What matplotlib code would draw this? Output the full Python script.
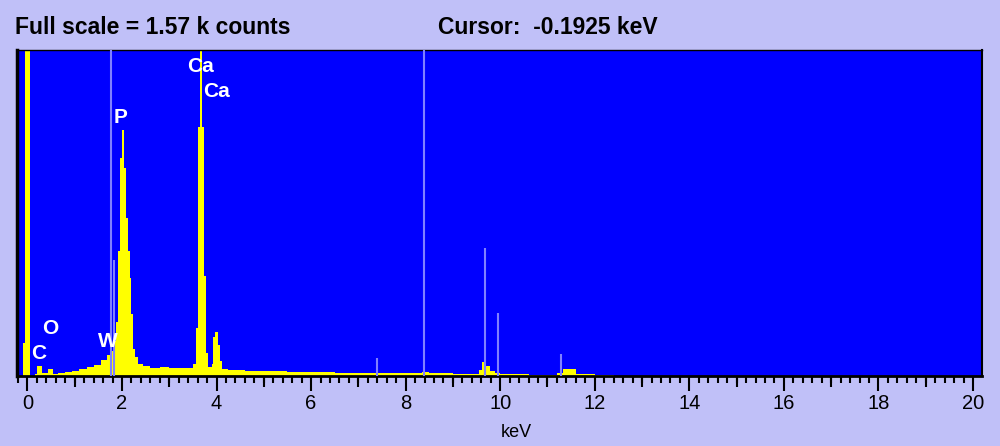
import matplotlib.pyplot as plt
from matplotlib.ticker import MultipleLocator

# spectrum: left bin edge (keV) and counts in that bin
spec_kev = [-0.22, -0.10, -0.05, 0.05, 0.17, 0.21, 0.30, 0.43, 0.54, 0.65, 0.80, 0.95,
            1.10, 1.25, 1.40, 1.55, 1.68, 1.76, 1.80, 1.84, 1.88, 1.92, 1.96, 2.00,
            2.04, 2.08, 2.12, 2.16, 2.20, 2.24, 2.28, 2.34, 2.45, 2.60, 2.80, 3.00,
            3.20, 3.40, 3.50, 3.56, 3.60, 3.66, 3.70, 3.74, 3.78, 3.82, 3.90, 3.93,
            3.97, 4.03, 4.07, 4.12, 4.25, 4.60, 5.00, 5.50, 6.00, 6.50, 7.00, 7.50,
            8.00, 8.35, 8.50, 9.00, 9.55, 9.62, 9.70, 9.78, 9.88, 10.00, 10.60, 11.20,
            11.33, 11.60, 12.00, 12.40]
spec_counts = [0, 160, 1700, 0, 10, 48, 15, 34, 10, 15, 20, 25,
               35, 45, 55, 75, 100, 120, 130, 170, 260, 600, 1050, 1185,
               1000, 760, 600, 470, 300, 130, 90, 60, 50, 40, 45, 40,
               37, 40, 60, 230, 1200, 1700, 1200, 480, 110, 45, 60, 190,
               212, 150, 70, 35, 28, 25, 22, 20, 18, 16, 15, 13,
               12, 20, 12, 11, 30, 67, 50, 25, 12, 8, 6, 15,
               33, 8, 3, 0]
spec_end = 20.19

# KLM marker lines (W lines)
mark_kev = [1.775, 1.835, 7.388, 8.396, 9.672, 9.962, 11.286]
mark_counts = [1570, 560, 87, 1570, 617, 304, 106]

# peak labels
label_text = ['C', 'O', 'W', 'P', 'Ca', 'Ca']
label_kev = [0.24, 0.48, 1.70, 1.98, 3.67, 3.99]
label_counts = [106, 231, 164, 1247, 1488, 1368]

full_scale = 1570
header_left = 'Full scale = 1.57 k counts'
header_right = 'Cursor:  -0.1925 keV'

bg = '#c0c0f8'
plt.rcParams['font.family'] = ['Liberation Sans', 'DejaVu Sans']

fig = plt.figure(figsize=(10, 4.46), dpi=100, facecolor=bg)
ax = fig.add_axes([0.017, 0.157, 0.965, 0.731])
ax.set_facecolor('#0000ff')

edges = spec_kev + [spec_end]
vals = spec_counts + [spec_counts[-1]]
ax.fill_between(edges, vals, step='post', color='#ffff00', lw=0, zorder=2)
ax.vlines(mark_kev, 0, mark_counts, color='#8080ff', lw=1.5, zorder=3)
for t, x, y in zip(label_text, label_kev, label_counts):
    ax.text(x, y, t, color='white', fontweight='bold', fontsize=15,
            ha='center', va='center', zorder=4)

ax.set_xlim(-0.22, 20.19)
ax.set_ylim(0, full_scale)
ax.set_yticks([])

ax.xaxis.set_major_locator(MultipleLocator(2))
ax.xaxis.set_minor_locator(MultipleLocator(0.2))
ax.tick_params(axis='x', which='major', length=11, width=1.5, pad=2,
               labelsize=14.5, colors='black')
ax.tick_params(axis='x', which='minor', length=5, width=1.5)
sec = ax.secondary_xaxis('bottom')
sec.set_xticks(list(range(1, 21, 2)))
sec.tick_params(length=8, width=1.5, labelbottom=False)
sec.spines['bottom'].set_visible(False)

for s, w in [('left', 2.5), ('top', 1), ('right', 1.5), ('bottom', 2)]:
    ax.spines[s].set_linewidth(w)
    ax.spines[s].set_color('black')

ax.set_xlabel('keV', fontsize=13)
ax.xaxis.set_label_coords(0.517, -0.148)

fig.text(0.015, 0.939, header_left, fontsize=16.5, fontweight='bold', va='center')
fig.text(0.438, 0.939, header_right, fontsize=16.5, fontweight='bold', va='center')

fig.savefig('out.png', dpi=100, facecolor=bg)
